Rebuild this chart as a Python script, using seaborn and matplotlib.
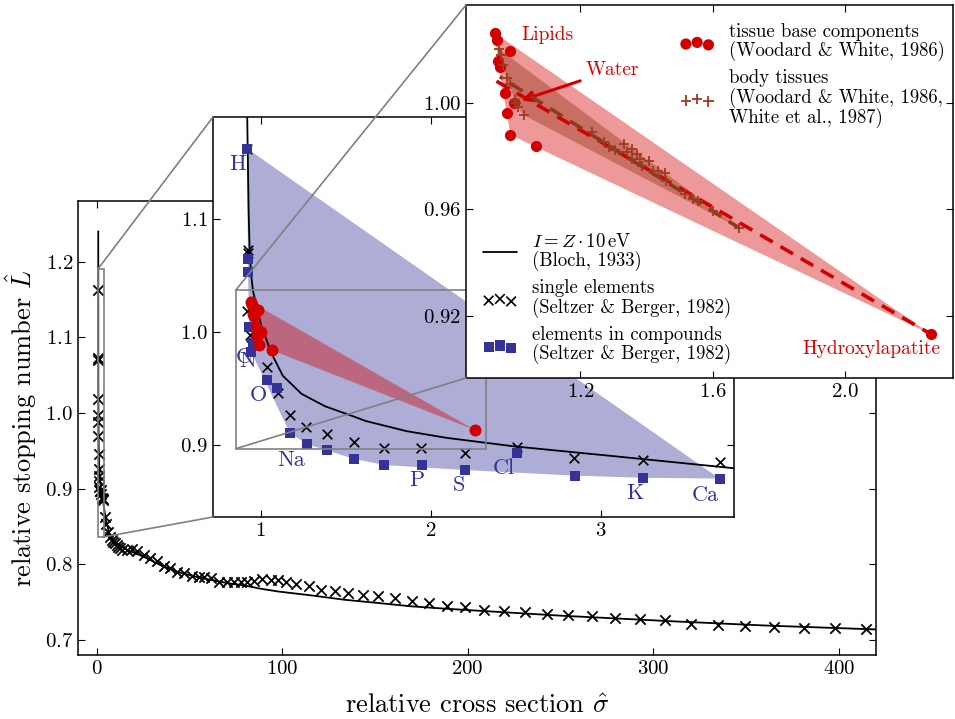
import matplotlib
matplotlib.use("Agg")
import matplotlib.pyplot as plt
from matplotlib.patches import Polygon, Rectangle, ConnectionPatch
import seaborn as sns

# Bloch curve, I = Z * 10 eV
curve_sigma = [0.918, 0.921, 0.929, 0.935, 0.945, 0.955, 0.969, 1.004, 1.063, 1.13, 1.24, 1.378,
               1.545, 1.616, 1.856, 2.094, 2.49, 3.09, 3.79, 5.0, 7.2, 10.0, 16.3, 25.3, 34.3,
               43.4, 52.4, 61.4, 70.5, 79.5, 88.5, 97.6, 115.6, 133.7, 151.8, 169.8, 187.9,
               206.0, 250.0, 310.0, 360.0, 422.0]
curve_L = [1.240, 1.190, 1.108, 1.073, 1.049, 1.036, 1.027, 1.005, 0.981, 0.961, 0.945, 0.934,
           0.925, 0.921, 0.912, 0.906, 0.8985, 0.8896, 0.879, 0.858, 0.838, 0.829, 0.819, 0.810,
           0.799, 0.790, 0.784, 0.7794, 0.775, 0.772, 0.7676, 0.764, 0.7588, 0.753, 0.7487,
           0.7443, 0.7412, 0.7385, 0.732, 0.7246, 0.719, 0.7136]

# single elements (Seltzer & Berger, 1982)
single_sigma = [0.921, 0.925, 0.927, 0.920, 0.938, 0.945, 1.036, 1.099, 1.171, 1.267, 1.39,
                1.546, 1.726, 1.941, 2.198, 2.503, 2.842, 3.247, 3.695,
                4.5, 5.3, 6.3, 7.2, 8.1, 9.0, 9.9, 10.9, 11.8, 12.7, 13.6,
                16.3, 19.0, 21.7, 25.3, 28.9, 32.5, 36.1, 39.7, 43.4, 47.0,
                51.5, 55.1, 57.8, 61.4, 66.0, 70.5, 74.1, 77.7, 81.3, 84.9,
                89.4, 93.9, 97.6, 102.1, 107.5, 114.7, 121.0, 128.3, 135.5, 143.6,
                151.8, 160.8, 169.8, 178.9, 188.8, 198.7,
                208.7, 219.5, 230.9, 242.8, 254.2, 266.7, 279.1, 292.7, 306.2, 320.3,
                334.9, 349.6, 365.3, 381.0, 397.8, 414.6]
single_L = [1.162, 1.0726, 1.0696, 1.018, 0.997, 0.988, 0.969, 0.946, 0.926, 0.916, 0.9096,
            0.9024, 0.897, 0.897, 0.8926, 0.8976, 0.888, 0.8866, 0.885,
            0.862, 0.853, 0.842, 0.836, 0.832, 0.829, 0.8276, 0.825, 0.823, 0.821, 0.819,
            0.819, 0.8197, 0.8175, 0.812, 0.808, 0.8036, 0.797, 0.7947, 0.790, 0.788,
            0.7838, 0.783, 0.7825, 0.7816, 0.777, 0.777, 0.777, 0.776, 0.777, 0.778,
            0.780, 0.779, 0.7785, 0.777, 0.7737, 0.7706, 0.7662, 0.764, 0.7618, 0.7596,
            0.7575, 0.7553, 0.751, 0.7487, 0.7443, 0.743,
            0.7395, 0.738, 0.7368, 0.734, 0.733, 0.7316, 0.729, 0.7276, 0.726, 0.721,
            0.7197, 0.718, 0.717, 0.716, 0.716, 0.714]

# elements in compounds (Seltzer & Berger, 1982)
comp_sigma = [0.921, 0.925, 0.926, 0.932, 0.955, 0.945, 1.040, 1.095, 1.171, 1.27, 1.39,
              1.546, 1.726, 1.945, 2.198, 2.503, 2.846, 3.247, 3.695]
comp_L = [1.162, 1.064, 1.053, 1.004, 0.990, 0.982, 0.957, 0.950, 0.9104, 0.9006, 0.8956,
          0.8875, 0.882, 0.882, 0.8776, 0.8926, 0.8726, 0.8707, 0.870]

# tissue base components (Woodard & White, 1986)
base_sigma = [0.942, 0.949, 0.987, 0.952, 0.959, 1.000, 0.974, 0.980, 0.989, 1.065, 2.260]
base_L = [1.0264, 1.0237, 1.0195, 1.0158, 1.0138, 1.000, 1.0038, 0.9962, 0.9881, 0.9839, 0.9129]

# body tissues (Woodard & White, 1986, White et al., 1987)
body_sigma = [0.954, 0.9615, 0.9675, 0.978, 0.989, 1.0023, 1.0068, 1.0113, 1.0294, 1.2347,
              1.271, 1.2875, 1.304, 1.331, 1.3395, 1.3555, 1.3706, 1.3546, 1.3796, 1.3857,
              1.4077, 1.4198, 1.4349, 1.455, 1.4602, 1.5155, 1.5405, 1.5556, 1.6009, 1.6785]
body_L = [1.0205, 1.0182, 1.0144, 1.0095, 1.0072, 1.0011, 1.0, 0.9985, 0.9955, 0.989,
          0.9854, 0.9834, 0.9822, 0.9845, 0.9815, 0.9828, 0.9809, 0.979, 0.979, 0.9765,
          0.9781, 0.9746, 0.9744, 0.9736, 0.9708, 0.9658, 0.9639, 0.963, 0.9594, 0.9531]

# fitted lines
fit_base_sigma = [0.947, 2.26]
fit_base_L = [1.0083, 0.9129]
fit_body_sigma = [0.957, 1.68]
fit_body_L = [1.010, 0.953]

element_names = ["H", "C", "N", "O", "Na", "P", "S", "Cl", "K", "Ca"]

BLUE = "#333399"
RED = "#d40000"
BROWN = "#9e3a22"


def hull(xs, ys):
    pts = sorted(set(zip(xs, ys)))
    def cross(o, a, b):
        return (a[0] - o[0]) * (b[1] - o[1]) - (a[1] - o[1]) * (b[0] - o[0])
    lower, upper = [], []
    for p in pts:
        while len(lower) >= 2 and cross(lower[-2], lower[-1], p) <= 0:
            lower.pop()
        lower.append(p)
    for p in reversed(pts):
        while len(upper) >= 2 and cross(upper[-2], upper[-1], p) <= 0:
            upper.pop()
        upper.append(p)
    return lower[:-1] + upper[:-1]


sns.set_style("ticks")
plt.rcParams.update({
    "font.family": "serif", "font.serif": ["cmr10"], "mathtext.fontset": "cm",
    "axes.formatter.use_mathtext": True, "axes.unicode_minus": False,
    "xtick.direction": "in", "ytick.direction": "in", "xtick.top": True, "ytick.right": True,
    "xtick.major.size": 5, "ytick.major.size": 5, "axes.linewidth": 1.1,
    "xtick.labelsize": 15, "ytick.labelsize": 15,
    "axes.edgecolor": "k", "xtick.color": "k", "ytick.color": "k", "text.color": "k",
    "axes.labelcolor": "k",
})

fig = plt.figure(figsize=(9.55, 7.19), dpi=100)

# ---- main axes
ax = fig.add_axes([78 / 955, 1 - 655 / 719, 798 / 955, 454 / 719])
sns.lineplot(x=curve_sigma, y=curve_L, ax=ax, color="k", lw=1.3, sort=False, estimator=None)
sns.scatterplot(x=single_sigma, y=single_L, ax=ax, marker="x", color="k", s=55, linewidth=1.3, legend=False)
ax.set_xlim(-10, 420)
ax.set_ylim(0.68, 1.28)
ax.set_xticks([0, 100, 200, 300, 400])
ax.set_yticks([0.7, 0.8, 0.9, 1.0, 1.1, 1.2])
ax.set_xlabel(r"relative cross section $\hat{\sigma}$", fontsize=19, labelpad=12)
ax.set_ylabel(r"relative stopping number $\hat{L}$", fontsize=19)

# ---- middle inset
mid = fig.add_axes([213 / 955, 1 - 517 / 719, 521 / 955, 400 / 719], facecolor="white")
mid.add_patch(Polygon(hull(comp_sigma, comp_L), closed=True, fc=BLUE, alpha=0.4, lw=0, zorder=1))
mid.add_patch(Polygon(hull(base_sigma, base_L), closed=True, fc=RED, alpha=0.4, lw=0, zorder=1.1))
sns.lineplot(x=curve_sigma, y=curve_L, ax=mid, color="k", lw=1.3, sort=False, estimator=None,
             label=r"$I = Z \cdot 10\,\mathrm{eV}$" + "\n(Bloch, 1933)", legend=False)
line_handle = mid.lines[-1]
sns.scatterplot(x=single_sigma, y=single_L, ax=mid, marker="x", color="k", s=48, linewidth=1.2,
                legend=False, label="single elements\n(Seltzer & Berger, 1982)", zorder=3)
x_handle = mid.collections[-1]
sns.scatterplot(x=comp_sigma, y=comp_L, ax=mid, marker="s", color=BLUE, s=55, linewidth=0,
                legend=False, label="elements in compounds\n(Seltzer & Berger, 1982)", zorder=4)
sq_handle = mid.collections[-1]
sns.scatterplot(x=base_sigma, y=base_L, ax=mid, marker="o", color=RED, s=75, linewidth=0,
                legend=False, zorder=5)
mid.set_xlim(0.72, 3.78)
mid.set_ylim(0.836, 1.19)
mid.set_xticks([1, 2, 3])
mid.set_yticks([0.9, 1.0, 1.1])

label_pos = {"H": (0.866, 1.148), "C": (0.90, 0.977), "N": (0.925, 0.974), "O": (0.984, 0.944),
             "Na": (1.177, 0.8866), "P": (1.915, 0.8686), "S": (2.164, 0.864),
             "Cl": (2.43, 0.879), "K": (3.2, 0.8566), "Ca": (3.61, 0.855)}
for name in element_names:
    px, py = label_pos[name]
    mid.text(px, py, name, color=BLUE, fontsize=16, ha="center", va="center", zorder=6)

# ---- top right inset
top = fig.add_axes([466 / 955, 1 - 378 / 719, 487 / 955, 373 / 719], facecolor="white")
top.add_patch(Polygon(hull(base_sigma, base_L), closed=True, fc=RED, alpha=0.4, lw=0, zorder=1))
top.add_patch(Polygon(hull(body_sigma, body_L), closed=True, fc=BROWN, alpha=0.45, lw=0, zorder=1.1))
sns.scatterplot(x=base_sigma, y=base_L, ax=top, marker="o", color=RED, s=65, linewidth=0,
                legend=False, label="tissue base components\n(Woodard & White, 1986)", zorder=3)
dot_handle = top.collections[-1]
sns.lineplot(x=fit_base_sigma, y=fit_base_L, ax=top, color=RED, lw=2.6, linestyle=(0, (4, 2.5)),
             sort=False, estimator=None, legend=False, zorder=4)
sns.lineplot(x=fit_body_sigma, y=fit_body_L, ax=top, color="#8a3a1e", lw=2.6, linestyle=(3, (4, 2.5)),
             sort=False, estimator=None, legend=False, zorder=4)
sns.scatterplot(x=body_sigma, y=body_L, ax=top, marker="+", color=BROWN, s=55, linewidth=1.3,
                legend=False, label="body tissues\n(Woodard & White, 1986,\nWhite et al., 1987)", zorder=5)
plus_handle = top.collections[-1]
top.set_xlim(0.855, 2.325)
top.set_ylim(0.8965, 1.037)
top.set_xticks([1.2, 1.6, 2.0])
top.set_yticks([0.92, 0.96, 1.00])

top.text(1.102, 1.0258, "Lipids", color=RED, fontsize=14, ha="center", va="center")
top.annotate("Water", xy=(1.0225, 1.0011), xytext=(1.298, 1.0125), color=RED, fontsize=14,
             ha="center", va="center",
             arrowprops=dict(arrowstyle="-|>", color=RED, lw=2.2, mutation_scale=16, shrinkA=2, shrinkB=0))
top.text(2.08, 0.9073, "Hydroxylapatite", color=RED, fontsize=14, ha="center", va="center")

leg_kw = dict(frameon=False, fontsize=13.5, scatterpoints=3, handlelength=1.8, handletextpad=0.8,
              labelspacing=0.45, borderpad=0, borderaxespad=0)
leg1 = top.legend(handles=[line_handle, x_handle, sq_handle], loc="lower left",
                  bbox_to_anchor=(0.035, 0.037), **leg_kw)
top.add_artist(leg1)
leg2 = top.legend(handles=[dot_handle, plus_handle], loc="upper left",
                  bbox_to_anchor=(0.44, 0.952), **leg_kw)
for lg in (leg1, leg2):
    for t in lg.get_texts():
        t.set_linespacing(1.0)

# ---- zoom rectangles and connectors
grey = "#808080"
x0, x1 = mid.get_xlim()
y0, y1 = mid.get_ylim()
ax.add_patch(Rectangle((x0, y0), x1 - x0, y1 - y0, fill=False, ec=grey, lw=1.2, zorder=5))
fig.add_artist(ConnectionPatch(xyA=(x0, y1), coordsA=ax.transData, xyB=(0, 1), coordsB=mid.transAxes,
                               color=grey, lw=1.2))
fig.add_artist(ConnectionPatch(xyA=(x1, y0), coordsA=ax.transData, xyB=(0, 0), coordsB=mid.transAxes,
                               color=grey, lw=1.2))

x0, x1 = top.get_xlim()
y0, y1 = top.get_ylim()
mid.add_patch(Rectangle((x0, y0), x1 - x0, y1 - y0, fill=False, ec=grey, lw=1.2, zorder=7))
fig.add_artist(ConnectionPatch(xyA=(x0, y1), coordsA=mid.transData, xyB=(0, 1), coordsB=top.transAxes,
                               color=grey, lw=1.2))
fig.add_artist(ConnectionPatch(xyA=(x0, y0), coordsA=mid.transData, xyB=(0, 0), coordsB=top.transAxes,
                               color=grey, lw=1.2))

fig.savefig("out.png", dpi=100)
